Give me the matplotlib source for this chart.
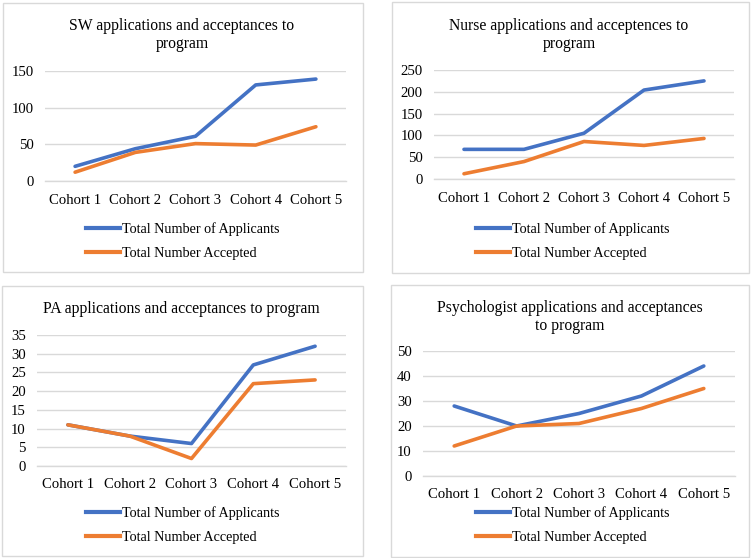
import matplotlib
matplotlib.use("Agg")
import matplotlib.pyplot as plt
from matplotlib.patches import Rectangle
from matplotlib.lines import Line2D

COHORTS = ["Cohort 1", "Cohort 2", "Cohort 3", "Cohort 4", "Cohort 5"]
SERIES_NAMES = ["Total Number of Applicants", "Total Number Accepted"]

SW_APPLICANTS = [20, 44, 61, 131, 139]
SW_ACCEPTED = [12, 39, 51, 49, 74]

NURSE_APPLICANTS = [68, 68, 105, 204, 225]
NURSE_ACCEPTED = [12, 40, 86, 77, 93]

PA_APPLICANTS = [11, 8, 6, 27, 32]
PA_ACCEPTED = [11, 8, 2, 22, 23]

PSYCH_APPLICANTS = [28, 20, 25, 32, 44]
PSYCH_ACCEPTED = [12, 20, 21, 27, 35]

TITLES = [
    "SW applications and acceptances to\nprogram",
    "Nurse applications and acceptences to\nprogram",
    "PA applications and acceptances to program",
    "Psychologist applications and acceptances\nto program",
]

BLUE = "#4472C4"
ORANGE = "#ED7D31"
GRID = "#D9D9D9"

W, H = 752, 558

plt.rcParams.update({
    "font.family": ["Liberation Serif", "DejaVu Serif"],
    "font.size": 10,
})

fig = plt.figure(figsize=(W / 100, H / 100), dpi=100)


def px_box(x0, y0, x1, y1):
    # pixel box (top-left origin) -> figure fraction [l, b, w, h]
    return [x0 / W, 1 - y1 / H, (x1 - x0) / W, (y1 - y0) / H]


# panel layouts in pixels: border, plot area, title centre, legend anchor
panels = [
    dict(border=(3, 3, 363, 272), plot=(45, 71, 346, 181), title=(182, 35),
         legend=(86, 241), ymax=150, step=50,
         data=(SW_APPLICANTS, SW_ACCEPTED)),
    dict(border=(392, 2, 749, 273), plot=(434, 70, 734, 179), title=(569, 35),
         legend=(476, 241), ymax=250, step=50,
         data=(NURSE_APPLICANTS, NURSE_ACCEPTED)),
    dict(border=(2, 286, 363, 556), plot=(37, 335, 346, 466), title=(181, 309),
         legend=(86, 525), ymax=35, step=5,
         data=(PA_APPLICANTS, PA_ACCEPTED)),
    dict(border=(391, 285, 749, 557), plot=(423, 351, 735, 476), title=(570, 317),
         legend=(476, 525), ymax=50, step=10,
         data=(PSYCH_APPLICANTS, PSYCH_ACCEPTED)),
]

for p, title in zip(panels, TITLES):
    bx0, by0, bx1, by1 = p["border"]
    fig.patches.append(Rectangle((bx0 / W, 1 - by1 / H), (bx1 - bx0) / W, (by1 - by0) / H,
                                 transform=fig.transFigure, fill=False,
                                 edgecolor=GRID, linewidth=1.0))

    ax = fig.add_axes(px_box(*p["plot"]))
    x = range(len(COHORTS))
    apps, acc = p["data"]
    ax.plot(x, apps, color=BLUE, linewidth=2.6, solid_capstyle="round",
            solid_joinstyle="round", label=SERIES_NAMES[0], zorder=3, clip_on=False)
    ax.plot(x, acc, color=ORANGE, linewidth=2.6, solid_capstyle="round",
            solid_joinstyle="round", label=SERIES_NAMES[1], zorder=3, clip_on=False)

    ax.set_xlim(-0.5, len(COHORTS) - 0.5)
    ax.set_ylim(0, p["ymax"])
    ax.set_yticks(range(0, p["ymax"] + 1, p["step"]))
    ax.set_xticks(list(x))
    ax.set_xticklabels(COHORTS, fontsize=10.6)
    ax.tick_params(axis="y", labelsize=10.6, length=0, pad=8)
    ax.tick_params(axis="x", length=0, pad=9)
    ax.grid(axis="y", color=GRID, linewidth=1.0)
    ax.set_axisbelow(True)
    for side in ["top", "right", "left"]:
        ax.spines[side].set_visible(False)
    ax.spines["bottom"].set_color(GRID)
    ax.spines["bottom"].set_linewidth(1.0)

    tx, ty = p["title"]
    fig.text(tx / W, 1 - ty / H, title, ha="center", va="center",
             fontsize=11.3, linespacing=1.2)

    lx, ly = p["legend"]
    handles = [Line2D([], [], color=BLUE, linewidth=3),
               Line2D([], [], color=ORANGE, linewidth=3)]
    fig.legend(handles, SERIES_NAMES, loc="center left",
               bbox_to_anchor=(lx / W, 1 - ly / H), frameon=False,
               fontsize=10.2, handlelength=2.4, handletextpad=0.15,
               labelspacing=0.8, borderpad=0, borderaxespad=0)

fig.savefig("out.png", dpi=100)
